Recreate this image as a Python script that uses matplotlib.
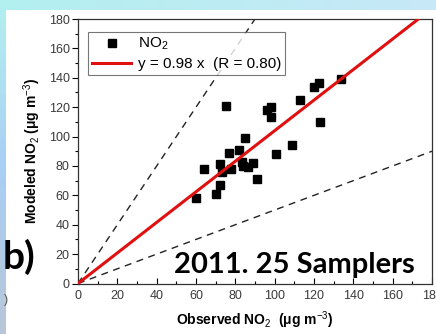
import numpy as np
import matplotlib
matplotlib.use("Agg")
import matplotlib.pyplot as plt
from matplotlib.patches import Rectangle

plt.rcParams['mathtext.fontset'] = 'custom'
plt.rcParams['mathtext.rm'] = 'Liberation Sans'
plt.rcParams['mathtext.it'] = 'Liberation Sans:italic'
plt.rcParams['mathtext.bf'] = 'Liberation Sans:bold'

# ---- data ----
obs_no2 = [60, 64, 70, 72, 72, 73, 75, 77, 78, 82, 83.5, 84, 85, 86.5, 89, 91,
           96, 98, 98, 100.5, 109, 113, 120, 122.5, 123, 133.5]
mod_no2 = [58, 78, 61, 67, 81, 76, 121, 89, 78, 91, 82.5, 80, 99, 79, 82, 71,
           118, 120, 113, 88, 94, 125, 134, 136.5, 110, 139]
fit_slope = 1.04          # slope of the drawn red line as it appears
fit_label = "y = 0.98 x  (R = 0.80)"
upper_slope = 2.0
lower_slope = 0.5
x_ticks = [0, 20, 40, 60, 80, 100, 120, 140, 160, 180]
y_ticks = [0, 20, 40, 60, 80, 100, 120, 140, 160, 180]

W, H = 436, 334
fig = plt.figure(figsize=(W / 100, H / 100), dpi=100)

# background gradient (slide frame)
bg = fig.add_axes([0, 0, 1, 1], zorder=-10)
bg.set_axis_off()
ny, nx = 50, 50
img = np.zeros((ny, nx, 3))
top = np.array([0.70, 0.94, 0.94])
topr = np.array([0.78, 0.91, 0.97])
mid = np.array([0.66, 0.81, 0.96])
bot = np.array([0.72, 0.78, 0.85])
for i in range(ny):
    t = i / (ny - 1)
    if t < 0.5:
        left = top * (1 - 2 * t) + mid * (2 * t)
    else:
        left = mid * (2 - 2 * t) + bot * (2 * t - 1)
    for j in range(nx):
        s = j / (nx - 1)
        img[i, j] = left * (1 - s) + topr * s
bg.imshow(img, extent=[0, 1, 0, 1], aspect='auto', transform=bg.transAxes)
bg.set_xlim(0, 1)
bg.set_ylim(0, 1)
bg.add_patch(Rectangle((6 / W, 0), 1, (H - 10) / H, transform=bg.transAxes,
                       facecolor='white', edgecolor='none'))
fig.text(4 / W, 1 - 300 / H, ")", fontsize=9, color='#555555', va='center',
         family='Liberation Sans')

ax = fig.add_axes([78 / W, 1 - 283.5 / H, (432 - 78) / W, (283.5 - 19) / H])
ax.set_xlim(0, 180)
ax.set_ylim(0, 180)

xx = np.array([0, 180])
ax.plot(xx, upper_slope * xx, ls=(0, (5, 4)), color='#222222', lw=1.0)
ax.plot(xx, lower_slope * xx, ls=(0, (5, 4)), color='#222222', lw=1.0)
ax.plot(obs_no2, mod_no2, ls='none', marker='s', ms=6, color='black',
        label='NO$_2$', zorder=3)
ax.plot(xx, fit_slope * xx, color='#e01010', lw=2.2, label=fit_label, zorder=4)

ax.set_xticks(x_ticks)
ax.set_yticks(y_ticks)
ax.set_xticks(np.arange(10, 180, 20), minor=True)
ax.set_yticks(np.arange(10, 180, 20), minor=True)
ax.tick_params(axis='x', which='major', direction='in', length=4, width=0.8,
               labelsize=9, labelcolor='#3a3a3a', pad=5)
ax.tick_params(axis='x', which='minor', direction='in', length=2.5, width=0.8)
ax.tick_params(axis='y', which='major', direction='out', length=4, width=0.8,
               labelsize=9, labelcolor='#3a3a3a', pad=2)
ax.tick_params(axis='y', which='minor', direction='out', length=2.5, width=0.8)
for lab in ax.get_xticklabels() + ax.get_yticklabels():
    lab.set_family('Liberation Sans')
for sp in ax.spines.values():
    sp.set_linewidth(0.9)
    sp.set_color('#333333')

ax.set_xlabel('Observed NO$_2$  (\u03bcg m$^{-3}$)', fontsize=10, fontweight='bold',
              family='Liberation Sans', labelpad=5)
ax.set_ylabel('Modeled NO$_2$ (\u03bcg m$^{-3}$)', fontsize=10, fontweight='bold',
              family='Liberation Sans', labelpad=4)

leg = ax.legend(loc='upper left', bbox_to_anchor=(0.028, 0.95),
                prop={'family': 'Liberation Sans', 'size': 11},
                frameon=True, fancybox=False, edgecolor='#555555',
                handlelength=2.6, borderpad=0.25, labelspacing=0.3,
                handletextpad=0.4, borderaxespad=0)
leg.get_frame().set_linewidth(0.8)

fig.text(3 / W, 1 - 257 / H, 'b)', fontsize=28, fontweight='bold',
         family='Lato', va='center', ha='left')
fig.text(294 / W, 1 - 265 / H, '2011. 25 Samplers', fontsize=21,
         fontweight='bold', family='Lato', va='center', ha='center')

fig.savefig('out.png', dpi=100)
